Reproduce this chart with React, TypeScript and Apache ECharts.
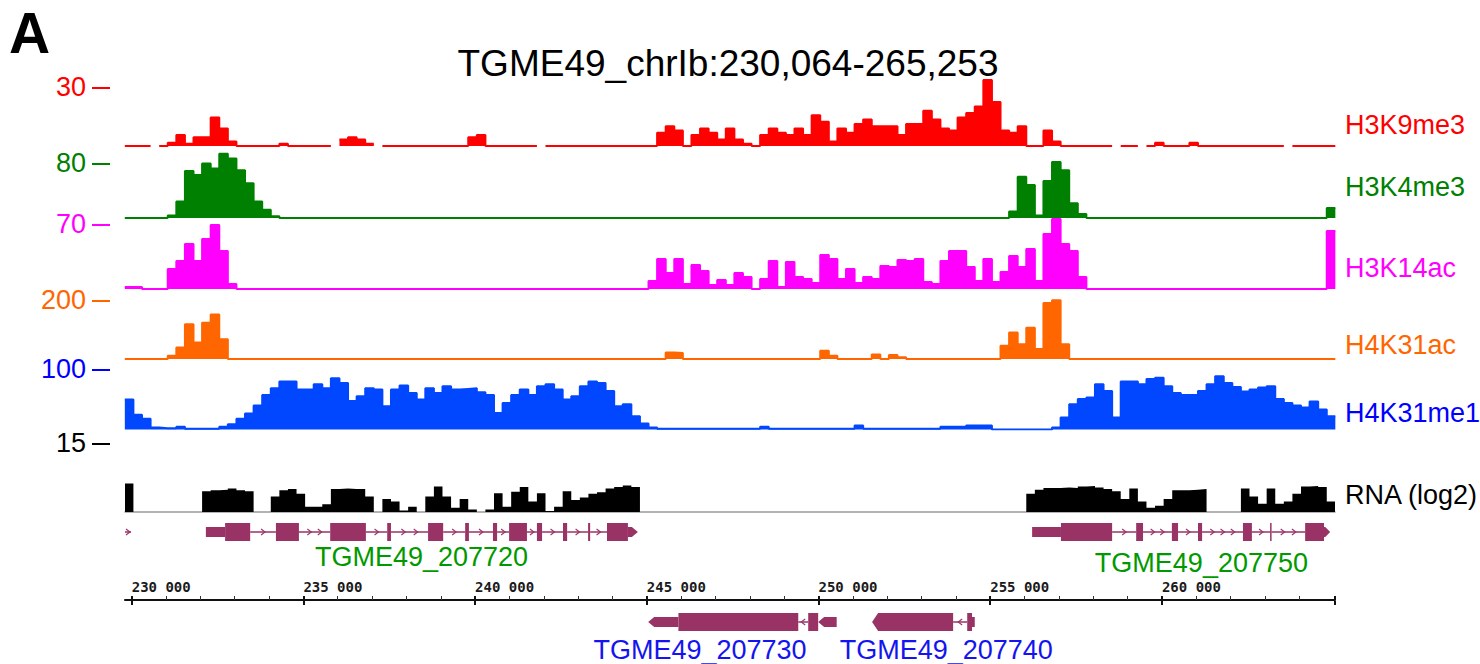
import React, { useEffect, useRef } from "react";
import * as echarts from "echarts";

// ---------------- data ----------------
const PANEL_LETTER = "A";
const TITLE = "TGME49_chrIb:230,064-265,253";

// genomic window (kb)
const X_MIN_KB = 229.805;
const X_MAX_KB = 265.04;
// coverage bins: bin i covers [BIN_START_KB + i*BIN_WIDTH_KB, +BIN_WIDTH_KB)
const BIN_START_KB = 229.8;
const BIN_WIDTH_KB = 0.25;

const TRACK_NAMES = ["H3K9me3", "H3K4me3", "H3K14ac", "H4K31ac", "H4K31me1", "RNA (log2)"];
const TRACK_MAX = [30, 80, 70, 200, 100, 15];

const H3K9ME3 = [
  0, 0, 0, null, 0, 1.5, 5, 1, 4, 4,
  13, 8, 2, 0, 0, 0, 0, 0, 1, 0,
  0, 0, 0, 0, null, 3, 4, 3, 1, null,
  0, 0, 0, 0, 0, 0, 0, 0, 0, 0,
  4, 5, 0, 0, 0, 0, 0, 0, null, 0,
  0, 0, 0, 0, 0, 0, 0, 0, 0, 0,
  0, 0, 6, 9, 7, 0, 5, 8, 6, 3,
  8, 3, 1, 0, 5, 8, 6, 5, 8, 5,
  14, 11, 2, 8, 6, 10, 12, 9, 9, 9,
  5, 10, 10, 16, 12, 8, 7, 13, 15, 18,
  30, 20, 7, 6, 9, 0, 0, 7, 2, 0,
  0, 0, 0, 0, 0, null, 0, 0, null, 0,
  1.5, 0, 0, 0, 1.5, 0, 0, 0, 0, 0,
  0, 0, 0, 0, 0, null, 0, 0, 0, 0,
  0,
];

const H3K4ME3 = [
  0, 0, 0, 0, 0, 3, 20, 57, 52, 66,
  60, 78, 72, 58, 42, 20, 10, 2, 0, 0,
  0, 0, 0, 0, 0, 0, 0, 0, 0, 0,
  0, 0, 0, 0, 0, 0, 0, 0, 0, 0,
  0, 0, 0, 0, 0, 0, 0, 0, 0, 0,
  0, 0, 0, 0, 0, 0, 0, 0, 0, 0,
  0, 0, 0, 0, 0, 0, 0, 0, 0, 0,
  0, 0, 0, 0, 0, 0, 0, 0, 0, 0,
  0, 0, 0, 0, 0, 0, 0, 0, 0, 0,
  0, 0, 0, 0, 0, 0, 0, 0, 0, 0,
  0, 0, 0, 8, 50, 40, 3, 45, 68, 58,
  18, 5, 0, 0, 0, 0, 0, 0, 0, 0,
  0, 0, 0, 0, 0, 0, 0, 0, 0, 0,
  0, 0, 0, 0, 0, 0, 0, 0, 0, 0,
  12,
];

const H3K14AC = [
  2, 2, 0, 0, 0, 20, 28, 45, 28, 50,
  64, 38, 5, 0, 0, 0, 0, 0, 0, 0,
  0, 0, 0, 0, 0, 0, 0, 0, 0, 0,
  0, 0, 0, 0, 0, 0, 0, 0, 0, 0,
  0, 0, 0, 0, 0, 0, 0, 0, 0, 0,
  0, 0, 0, 0, 0, 0, 0, 0, 0, 0,
  0, 8, 30, 16, 30, 5, 24, 18, 4, 9,
  4, 16, 12, 0, 10, 28, 2, 27, 12, 10,
  6, 34, 30, 10, 20, 6, 12, 10, 23, 22,
  29, 28, 30, 7, 5, 28, 38, 38, 22, 8,
  30, 7, 17, 33, 22, 40, 8, 55, 70, 45,
  38, 12, 0, 0, 0, 0, 0, 0, 0, 0,
  0, 0, 0, 0, 0, 0, 0, 0, 0, 0,
  0, 0, 0, 0, 0, 0, 0, 0, 0, 0,
  58,
];

const H4K31AC = [
  0, 0, 0, 0, 0, 10, 35, 105, 50, 110,
  135, 60, 0, 0, 0, 0, 0, 0, 0, 0,
  0, 0, 0, 0, 0, 0, 0, 0, 0, 0,
  0, 0, 0, 0, 0, 0, 0, 0, 0, 0,
  0, 0, 0, 0, 0, 0, 0, 0, 0, 0,
  0, 0, 0, 0, 0, 0, 0, 0, 0, 0,
  0, 0, 0, 20, 18, 0, 0, 0, 0, 0,
  0, 0, 0, 0, 0, 0, 0, 0, 0, 0,
  0, 25, 10, 0, 0, 0, 0, 14, 0, 12,
  5, 0, 0, 0, 0, 0, 0, 0, 0, 0,
  0, 0, 40, 80, 45, 95, 30, 170, 178, 45,
  0, 0, 0, 0, 0, 0, 0, 0, 0, 0,
  0, 0, 0, 0, 0, 0, 0, 0, 0, 0,
  0, 0, 0, 0, 0, 0, 0, 0, 0, 0,
  0,
];

const H4K31ME1 = [
  45, 22, 16, 3, 2, 2, 4, 1, 1, 1,
  1, 4, 8, 16, 24, 36, 52, 62, 72, 72,
  60, 60, 68, 62, 77, 70, 43, 50, 62, 60,
  35, 60, 66, 55, 45, 62, 55, 65, 60, 61,
  62, 56, 52, 25, 40, 52, 60, 52, 65, 68,
  60, 45, 50, 65, 72, 70, 58, 35, 38, 20,
  9, 3, 1, 1, 1, 1, 1, 1, 1, 1,
  1, 1, 1, 1, 4, 1, 1, 1, 1, 1,
  1, 1, 1, 1, 1, 6, 1, 1, 1, 1,
  1, 1, 1, 1, 1, 4, 4, 4, 6, 6,
  6, 0, 0, 0, 0, 0, 0, 0, 3, 18,
  38, 46, 48, 68, 58, 18, 72, 72, 68, 76,
  78, 65, 55, 52, 52, 58, 68, 80, 70, 64,
  57, 60, 63, 65, 46, 40, 36, 33, 42, 30,
  20,
];

const RNA_LOG2 = [
  5.5, 0, 0, 0, 0, 0, 0, 0, 0, 4,
  4.2, 4.3, 4.5, 4.2, 4.0, 0, 0, 3, 4.2, 4.4,
  3.5, 1, 1, 1.5, 4.4, 4.5, 4.4, 4.4, 3, 0,
  2.5, 2, 0.3, 1, 0, 3, 4.9, 3, 0.8, 2.5,
  0.5, 0, 0.5, 3.6, 1, 3.9, 4.8, 2, 3.6, 0.2,
  1, 4, 2.3, 2.8, 3.5, 3.8, 4.5, 4.8, 5.1, 4.8,
  0, 0, 0, 0, 0, 0, 0, 0, 0, 0,
  0, 0, 0, 0, 0, 0, 0, 0, 0, 0,
  0, 0, 0, 0, 0, 0, 0, 0, 0, 0,
  0, 0, 0, 0, 0, 0, 0, 0, 0, 0,
  0, 0, 0, 0, 0, 3.5, 4.3, 4.6, 4.6, 4.7,
  4.6, 4.9, 5.0, 4.7, 4.4, 4.0, 2.5, 4.5, 2, 0.8,
  1.2, 2.5, 4.2, 4.2, 4.3, 4.4, 0, 0, 0, 0,
  4.5, 3, 1.6, 4.5, 1.6, 2, 3.5, 4.9, 5.0, 4.8,
  2,
];

const TRACK_VALUES = [H3K9ME3, H3K4ME3, H3K14AC, H4K31AC, H4K31ME1, RNA_LOG2];

// genomic axis ticks (kb)
const MAJOR_TICKS_KB = [230, 235, 240, 245, 250, 255, 260];
const MINOR_TICKS_KB = [
  231, 232, 233, 234, 236, 237, 238, 239, 241, 242, 243, 244, 246, 247, 248, 249,
  251, 252, 253, 254, 256, 257, 258, 259, 261, 262, 263, 264,
];

// gene models: parts [startKb, endKb, kind]; kind 0 intron, 1 UTR, 2 CDS, 3 pointed UTR, 4 pointed CDS
const GENE_NAMES = ["", "TGME49_207720", "TGME49_207750", "TGME49_207730", "TGME49_207740"];
const GENE_ROWS = [1, 1, 1, 0, 0];
const GENE_STRANDS = [1, 1, 1, -1, -1];
const GENE_PARTS = [
  [[229.805, 229.98, 0]],
  [
    [232.16, 232.72, 1], [232.72, 233.45, 2], [233.45, 234.2, 0], [234.2, 234.87, 2],
    [234.87, 235.78, 0], [235.78, 236.82, 2], [236.82, 237.44, 0], [237.44, 237.55, 2],
    [237.55, 238.63, 0], [238.63, 239.07, 2], [239.07, 239.71, 0], [239.71, 239.82, 2],
    [239.82, 240.52, 0], [240.52, 240.64, 2], [240.64, 240.99, 0], [240.99, 241.51, 2],
    [241.51, 241.8, 0], [241.8, 241.95, 2], [241.95, 242.56, 0], [242.56, 242.68, 2],
    [242.68, 243.29, 0], [243.29, 243.35, 2], [243.35, 243.84, 0], [243.84, 244.45, 2],
    [244.45, 244.74, 3],
  ],
  [
    [256.22, 257.06, 1], [257.06, 258.55, 2], [258.55, 259.25, 0], [259.25, 259.45, 2],
    [259.45, 260.29, 0], [260.29, 260.47, 2], [260.47, 261.05, 0], [261.05, 261.17, 2],
    [261.17, 262.36, 0], [262.36, 262.62, 2], [262.62, 263.15, 0], [263.15, 263.19, 2],
    [263.19, 264.17, 0], [264.17, 264.72, 2], [264.72, 264.9, 3],
  ],
  [
    [245.04, 245.92, 3], [245.92, 249.41, 2], [249.41, 249.7, 0], [249.7, 249.99, 2],
    [249.99, 250.53, 3],
  ],
  [
    [251.56, 253.92, 4], [253.92, 254.33, 0], [254.33, 254.47, 2], [254.47, 254.55, 1],
  ],
];
const GENE_LABEL_KB = [0, 238.44, 261.15, 246.55, 253.72];

// ---------------- layout & style ----------------
const W = 1480;
const H = 664;
const PLOT_LEFT = 125;
const PLOT_RIGHT = 1335;
const TRACK_TOP = [80, 152, 219, 293, 363, 434];
const TRACK_BASE = [146, 218, 289, 359, 429.5, 512];
const SCALE_LABEL_Y = [87, 163, 224, 300, 369, 443];
const TRACK_LABEL_Y = [125, 187, 268, 344.5, 413, 495];
const TRACK_COLORS = ["#ff0000", "#008000", "#ff00ff", "#ff6600", "#0047ff", "#000000"];
const LABEL_COLORS = ["#ff0000", "#008000", "#ff00ff", "#ff6600", "#0000ff", "#000000"];
const GENE_COLOR = "#993366";
const GENE_ROW_TOP_Y = 532;
const GENE_ROW_BOTTOM_Y = 622;
const GENE_LABEL_DY = [0, 25, 31, 28, 28];
const GENE_LABEL_COLORS = ["#009900", "#009900", "#009900", "#1414f0", "#1414f0"];
const AXIS_Y = 600;
const SANS = '"Liberation Sans", Arial, Helvetica, sans-serif';

function binsToPoints(vals: (number | null)[]) {
  const pts: any[] = [];
  for (let i = 0; i < vals.length; i++) {
    const x0 = BIN_START_KB + i * BIN_WIDTH_KB;
    const v = vals[i];
    if (v === null) {
      pts.push([x0, "-"]);
      continue;
    }
    pts.push([x0, v]);
    const next = vals[i + 1];
    if (i === vals.length - 1 || next === null) pts.push([x0 + BIN_WIDTH_KB, v]);
  }
  return pts;
}

function renderGenePart(params: any, api: any) {
  const s = api.value(0);
  const e = api.value(1);
  const kind = api.value(2);
  const row = api.value(3);
  const strand = api.value(4);
  const p0 = api.coord([s, row]);
  const p1 = api.coord([e, row]);
  const x0 = p0[0];
  const x1 = p1[0];
  const y = p0[1];
  if (kind === 0) {
    const children: any[] = [
      { type: "line", shape: { x1: x0, y1: y, x2: x1, y2: y }, style: { stroke: GENE_COLOR, lineWidth: 1.5 } },
    ];
    const len = x1 - x0;
    const n = len > 5 ? Math.max(1, Math.floor(len / 13)) : 0;
    for (let k = 1; k <= n; k++) {
      const cx = x0 + (len * k) / (n + 1);
      const d = strand > 0 ? 1 : -1;
      children.push({
        type: "polyline",
        shape: { points: [[cx - 2 * d, y - 3], [cx + 2 * d, y], [cx - 2 * d, y + 3]] },
        style: { stroke: GENE_COLOR, fill: null, lineWidth: 1.1 },
      });
    }
    return { type: "group", children };
  }
  const h = kind === 2 || kind === 4 ? 18 : 10;
  if (kind === 1 || kind === 2) {
    return {
      type: "rect",
      shape: { x: x0, y: y - h / 2, width: Math.max(1.5, x1 - x0), height: h },
      style: { fill: GENE_COLOR },
    };
  }
  const tip = Math.min(6, (x1 - x0) * 0.8);
  const pts =
    strand > 0
      ? [[x0, y - h / 2], [x1 - tip, y - h / 2], [x1, y], [x1 - tip, y + h / 2], [x0, y + h / 2]]
      : [[x0 + tip, y - h / 2], [x1, y - h / 2], [x1, y + h / 2], [x0 + tip, y + h / 2], [x0, y]];
  return { type: "polygon", shape: { points: pts }, style: { fill: GENE_COLOR } };
}

function renderGeneLabel(params: any, api: any) {
  const g = api.value(2);
  const p = api.coord([api.value(0), api.value(1)]);
  return {
    type: "text",
    x: p[0],
    y: p[1] + GENE_LABEL_DY[g],
    style: {
      text: GENE_NAMES[g],
      fill: GENE_LABEL_COLORS[g],
      fontSize: 27,
      fontFamily: SANS,
      align: "center",
      verticalAlign: "middle",
    },
  };
}

function buildOption() {
  const grid: any[] = [];
  const xAxis: any[] = [];
  const yAxis: any[] = [];
  const series: any[] = [];
  const graphic: any[] = [];
  const right = W - PLOT_RIGHT;

  TRACK_VALUES.forEach((vals, i) => {
    const isRna = i === TRACK_VALUES.length - 1;
    grid.push({ left: PLOT_LEFT, right, top: TRACK_TOP[i], height: TRACK_BASE[i] - TRACK_TOP[i] });
    xAxis.push({
      type: "value",
      gridIndex: i,
      min: X_MIN_KB,
      max: X_MAX_KB,
      show: isRna,
      axisLine: { show: true, onZero: false, lineStyle: { color: "#9a9a9a", width: 1.5 } },
      axisTick: { show: false },
      axisLabel: { show: false },
      splitLine: { show: false },
    });
    yAxis.push({ type: "value", gridIndex: i, min: 0, max: TRACK_MAX[i], show: false, splitLine: { show: false } });
    series.push({
      type: "line",
      name: TRACK_NAMES[i],
      xAxisIndex: i,
      yAxisIndex: i,
      data: binsToPoints(vals),
      step: "end",
      symbol: "none",
      showSymbol: false,
      connectNulls: false,
      silent: true,
      lineStyle: { color: TRACK_COLORS[i], width: isRna ? 0 : 2 },
      areaStyle: { color: TRACK_COLORS[i], opacity: 1 },
      z: isRna ? 1 : 2,
    });
    graphic.push({
      type: "text",
      x: 86,
      y: SCALE_LABEL_Y[i],
      style: {
        text: String(TRACK_MAX[i]),
        fill: LABEL_COLORS[i],
        fontSize: 27,
        fontFamily: SANS,
        align: "right",
        verticalAlign: "middle",
      },
    });
    graphic.push({
      type: "line",
      shape: { x1: 92, y1: SCALE_LABEL_Y[i] + 1, x2: 110, y2: SCALE_LABEL_Y[i] + 1 },
      style: { stroke: LABEL_COLORS[i], lineWidth: 2 },
    });
    graphic.push({
      type: "text",
      x: 1345,
      y: TRACK_LABEL_Y[i],
      style: {
        text: TRACK_NAMES[i],
        fill: LABEL_COLORS[i],
        fontSize: 27,
        fontFamily: SANS,
        align: "left",
        verticalAlign: "middle",
      },
    });
  });

  // gene grid
  const gi = TRACK_VALUES.length;
  grid.push({ left: PLOT_LEFT, right, top: GENE_ROW_TOP_Y, height: GENE_ROW_BOTTOM_Y - GENE_ROW_TOP_Y });
  xAxis.push({ type: "value", gridIndex: gi, min: X_MIN_KB, max: X_MAX_KB, show: false });
  yAxis.push({ type: "value", gridIndex: gi, min: 0, max: 1, show: false });
  const partData: any[] = [];
  GENE_PARTS.forEach((parts, g) => {
    parts.forEach((p) => partData.push([p[0], p[1], p[2], GENE_ROWS[g], GENE_STRANDS[g]]));
  });
  series.push({
    type: "custom",
    xAxisIndex: gi,
    yAxisIndex: gi,
    silent: true,
    data: partData,
    renderItem: renderGenePart,
    clip: false,
  });
  const labelData: any[] = [];
  GENE_NAMES.forEach((name, g) => {
    if (name) labelData.push([GENE_LABEL_KB[g], GENE_ROWS[g], g]);
  });
  series.push({
    type: "custom",
    xAxisIndex: gi,
    yAxisIndex: gi,
    silent: true,
    data: labelData,
    renderItem: renderGeneLabel,
    clip: false,
  });

  // coordinate axis grid
  const ai = gi + 1;
  grid.push({ left: PLOT_LEFT, right, top: AXIS_Y, height: 1 });
  yAxis.push({ type: "value", gridIndex: ai, min: 0, max: 1, show: false });
  const monoLabel = {
    fontFamily: '"DejaVu Sans Mono", monospace',
    fontWeight: "bold",
    fontSize: 14,
    color: "#1a1a1a",
  };
  xAxis.push({
    type: "value",
    gridIndex: ai,
    position: "top",
    min: X_MIN_KB,
    max: X_MAX_KB,
    axisLine: { show: true, onZero: false, lineStyle: { color: "#111", width: 2 } },
    axisTick: {
      show: true,
      customValues: [...MAJOR_TICKS_KB, X_MAX_KB],
      length: 4,
      lineStyle: { color: "#111", width: 2 },
    },
    axisLabel: {
      show: true,
      customValues: MAJOR_TICKS_KB,
      formatter: (v: number) => `${Math.round(v)} 000`,
      align: "left",
      margin: 6,
      ...monoLabel,
    },
    splitLine: { show: false },
  });
  xAxis.push({
    type: "value",
    gridIndex: ai,
    position: "bottom",
    min: X_MIN_KB,
    max: X_MAX_KB,
    axisLine: { show: false },
    axisTick: {
      show: true,
      customValues: [...MAJOR_TICKS_KB, X_MAX_KB],
      length: 4,
      lineStyle: { color: "#111", width: 2 },
    },
    axisLabel: { show: false },
    splitLine: { show: false },
  });
  xAxis.push({
    type: "value",
    gridIndex: ai,
    position: "top",
    offset: 0,
    min: X_MIN_KB,
    max: X_MAX_KB,
    axisLine: { show: false },
    axisTick: { show: true, customValues: MINOR_TICKS_KB, length: 4, lineStyle: { color: "#333", width: 1 } },
    axisLabel: { show: false },
    splitLine: { show: false },
  });
  series.push({
    type: "line",
    xAxisIndex: ai,
    yAxisIndex: ai,
    data: [],
    silent: true,
  });

  graphic.push({
    type: "text",
    x: 9,
    y: 33,
    style: {
      text: PANEL_LETTER,
      fill: "#000",
      fontSize: 57,
      fontWeight: "bold",
      fontFamily: SANS,
      align: "left",
      verticalAlign: "middle",
    },
  });
  graphic.push({
    type: "text",
    x: 728,
    y: 63,
    style: {
      text: TITLE,
      fill: "#000",
      fontSize: 37,
      fontFamily: SANS,
      align: "center",
      verticalAlign: "middle",
    },
  });

  return {
    animation: false,
    backgroundColor: "#ffffff",
    grid,
    xAxis,
    yAxis,
    series,
    graphic,
  };
}

export default function App() {
  const ref = useRef<HTMLDivElement | null>(null);
  useEffect(() => {
    if (!ref.current) return;
    const chart = echarts.init(ref.current, undefined, { renderer: "svg", width: W, height: H });
    chart.setOption(buildOption() as any);
    return () => chart.dispose();
  }, []);
  return (
    <div
      ref={ref}
      style={{ position: "absolute", left: 0, top: 0, width: W, height: H, background: "#fff" }}
    />
  );
}
